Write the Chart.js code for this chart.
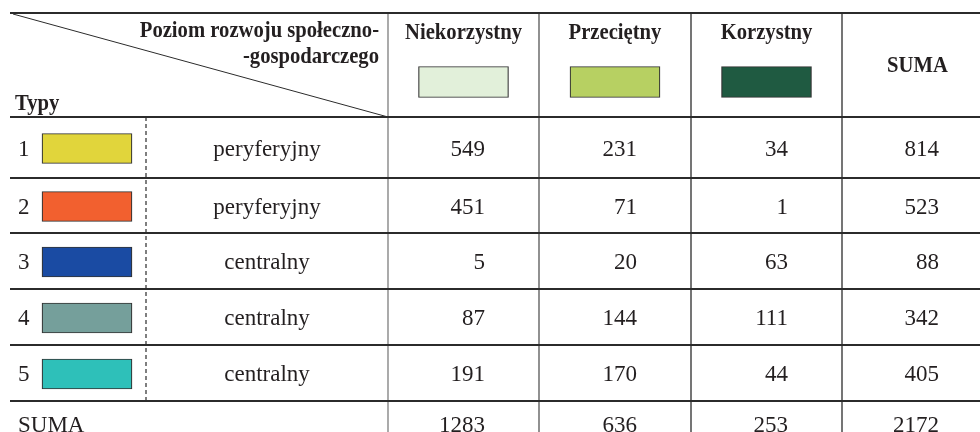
<!DOCTYPE html>
<html lang="pl">
<head>
<meta charset="utf-8">
<title>Typy a poziom rozwoju społeczno-gospodarczego</title>
<script src="https://cdn.jsdelivr.net/npm/chart.js@4.4.1/dist/chart.umd.min.js"></script>
<style>
  html, body { margin: 0; padding: 0; background: #fff; }
  #chart { display: block; }
</style>
</head>
<body>
<canvas id="chart" width="980" height="432"></canvas>
<script>
"use strict";

// table data
const levels = ['Niekorzystny', 'Przeciętny', 'Korzystny'];
const types = ['1', '2', '3', '4', '5'];
const typeNames = ['peryferyjny', 'peryferyjny', 'centralny', 'centralny', 'centralny'];
const niekorzystny = [549, 451, 5, 87, 191];
const przecietny = [231, 71, 20, 144, 170];
const korzystny = [34, 1, 63, 111, 44];
const sumaTypow = [814, 523, 88, 342, 405];
const sumaPoziomow = [1283, 636, 253, 2172];

// colours
const typeColors = ['#e1d53b', '#f2602f', '#1a4ba3', '#759f9b', '#2ec0b9'];
const levelColors = ['#e2f0da', '#b7d062', '#1f5a41'];
const INK = '#231f20';
const SERIF = '"Liberation Serif", "Times New Roman", serif';

// table layout, in units of the hidden x / y scales
const LEFT = 10, RIGHT = 980, TOP = 13, DASH_X = 146, SPLIT_X = 388;
const colEdges = [388, 539, 691, 842, 993];
const rowEdges = [117, 178, 233, 289, 345, 401, 457];
const colColors = ['#7d7d7d', '#555', '#2b2b2b', '#2b2b2b'];
const TYPE_SWATCH = [42, 132];
const LEVEL_SWATCH_W = 90, LEVEL_SWATCH_Y = 82;
const NUM_INSET = 54;

const colMid = i => (colEdges[i] + colEdges[i + 1]) / 2;
const rowMid = i => (rowEdges[i] + rowEdges[i + 1]) / 2;

function line(ctx, x1, y1, x2, y2) {
  ctx.beginPath();
  ctx.moveTo(x1, y1);
  ctx.lineTo(x2, y2);
  ctx.stroke();
}

function text(ctx, str, x, y, align, bold) {
  ctx.save();
  ctx.translate(x, y);
  if (bold) {
    // header type is a narrow bold serif
    ctx.scale(0.86, 1);
    ctx.font = 'bold 24px ' + SERIF;
  } else {
    ctx.font = '23px ' + SERIF;
  }
  ctx.textAlign = align;
  ctx.textBaseline = 'alphabetic';
  ctx.fillStyle = INK;
  ctx.fillText(str, 0, 0);
  ctx.restore();
}

const tablePlugin = {
  id: 'tablePlugin',
  beforeDatasetsDraw(chart) {
    const { ctx, scales: { x, y } } = chart;
    const px = v => x.getPixelForValue(v);
    const py = v => y.getPixelForValue(v);
    ctx.save();

    // vertical rules
    ctx.lineWidth = 1.3;
    colEdges.slice(0, 4).forEach((c, i) => {
      ctx.strokeStyle = colColors[i];
      line(ctx, px(c), py(TOP), px(c), py(432));
    });

    // dashed split inside the "Typy" block
    ctx.strokeStyle = '#555';
    ctx.lineWidth = 1.5;
    ctx.setLineDash([4, 3]);
    line(ctx, px(DASH_X), py(rowEdges[0]), px(DASH_X), py(rowEdges[5]));
    ctx.setLineDash([]);

    // horizontal rules
    ctx.strokeStyle = '#2b2b2b';
    [TOP].concat(rowEdges.slice(0, 6)).forEach((r, i) => {
      ctx.lineWidth = i < 2 ? 2.2 : 1.8;
      line(ctx, px(LEFT), py(r), px(RIGHT), py(r));
    });

    // diagonal in the corner cell
    ctx.lineWidth = 1;
    line(ctx, px(LEFT + 3), py(TOP + 1), px(SPLIT_X), py(rowEdges[0]));
    ctx.restore();
  },
  afterDatasetsDraw(chart) {
    const { ctx, scales: { x, y } } = chart;
    const px = v => x.getPixelForValue(v);
    const py = v => y.getPixelForValue(v);

    // header
    text(ctx, 'Poziom rozwoju społeczno-', px(SPLIT_X - 9), py(37), 'right', true);
    text(ctx, '-gospodarczego', px(SPLIT_X - 9), py(63), 'right', true);
    text(ctx, 'Typy', px(15), py(110), 'left', true);
    levels.forEach((l, i) => text(ctx, l, px(colMid(i)), py(39), 'center', true));
    text(ctx, 'SUMA', px(colMid(3)), py(72), 'center', true);

    // body
    const columns = [niekorzystny, przecietny, korzystny, sumaTypow];
    types.forEach((t, r) => {
      const base = py(rowMid(r) + 8);
      text(ctx, t, px(18), base, 'left');
      text(ctx, typeNames[r], px((DASH_X + SPLIT_X) / 2), base, 'center');
      columns.forEach((col, c) => {
        text(ctx, String(col[r]), px(colEdges[c + 1] - NUM_INSET), base, 'right');
      });
    });

    // totals row
    const sumBase = py(432);
    text(ctx, 'SUMA', px(18), sumBase, 'left');
    sumaPoziomow.forEach((v, c) => {
      text(ctx, String(v), px(colEdges[c + 1] - NUM_INSET), sumBase, 'right');
    });
  }
};

new Chart(document.getElementById('chart'), {
  type: 'bar',
  data: {
    datasets: [
      {
        label: 'Typy',
        data: types.map((t, i) => ({ x: TYPE_SWATCH, y: rowMid(i) + 1 })),
        backgroundColor: typeColors,
        barThickness: 30
      },
      {
        label: 'Poziom rozwoju',
        data: levels.map((l, i) => ({
          x: [colMid(i) - LEVEL_SWATCH_W / 2, colMid(i) + LEVEL_SWATCH_W / 2],
          y: LEVEL_SWATCH_Y
        })),
        backgroundColor: levelColors,
        barThickness: 31
      }
    ]
  },
  options: {
    indexAxis: 'y',
    responsive: false,
    animation: false,
    layout: { padding: 0 },
    datasets: {
      bar: { grouped: false, borderColor: '#333', borderWidth: 1.2, borderSkipped: false }
    },
    scales: {
      x: { type: 'linear', min: 0, max: 980, display: false, offset: false },
      y: { type: 'linear', min: 0, max: 432, reverse: true, display: false, offset: false }
    },
    plugins: {
      legend: { display: false },
      tooltip: { enabled: false }
    }
  },
  plugins: [tablePlugin]
});
</script>
</body>
</html>
